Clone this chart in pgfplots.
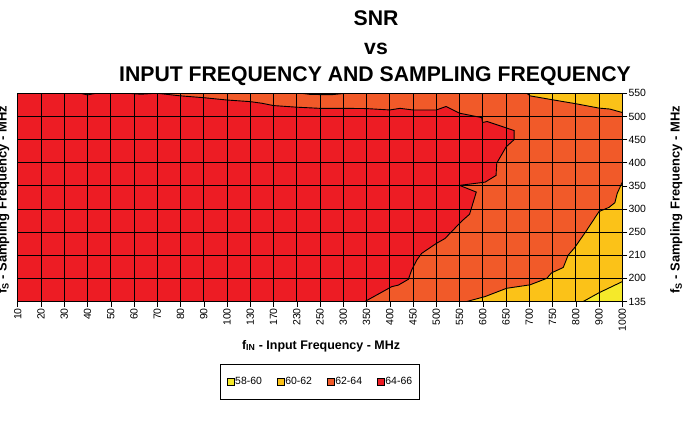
\documentclass[border=0pt]{standalone}
\usepackage{pgfplots}
\pgfplotsset{compat=1.18}
\usepackage{fontspec}
\setmainfont{Liberation Sans}
\definecolor{cRed}{RGB}{237,28,36}
\definecolor{cOrange}{RGB}{241,90,41}
\definecolor{cGold}{RGB}{251,194,24}
\definecolor{cYellow}{RGB}{245,233,42}
\begin{document}
\begin{tikzpicture}
\begin{axis}[
  at={(0,0)}, anchor=south west,
  scale only axis, width=604.5bp, height=208.2bp,
  xmin=0, xmax=26, ymin=0, ymax=9,
  xtick={0,...,26},
  xticklabels={10,20,30,40,50,60,70,80,90,100,130,170,230,250,300,350,400,450,500,550,600,650,700,750,800,900,1000},
  ytick={0,...,9},
  yticklabels={135,200,210,250,300,350,400,450,500,550},
  xtick pos=left, ytick pos=right, yticklabel pos=right,
  tick align=outside, major tick length=5bp,
  tick style={black, line width=0.6bp},
  /pgf/number format/assume math mode=true,
  xticklabel style={rotate=90, anchor=east, font=\fontsize{10.5}{12}\selectfont, inner sep=1.5bp},
  yticklabel style={anchor=west, font=\fontsize{10.5}{12}\selectfont, inner sep=1bp},
  grid=major, major grid style={black, line width=0.8bp},
  axis on top,
  axis line style={black, line width=0.8bp},
  legend columns=4,
  legend image code/.code={\draw[#1] (0bp,-3.3bp) rectangle (6.7bp,3.3bp);},
  legend style={at={(0.5,0)}, anchor=north, yshift=-62.5bp, draw=black, line width=0.8bp,
    inner xsep=6.5bp, inner ysep=12bp, font=\fontsize{10.5}{12}\selectfont,
    nodes={inner sep=1bp},
    /tikz/every even column/.append style={column sep=14bp}},
]
% background 62-64
\addplot[forget plot, fill=cOrange, draw=none] coordinates {(0,0) (26,0) (26,9) (0,9)} -- cycle;
% 64-66 region
\addplot[forget plot, fill=cRed, draw=none] coordinates {
 (0,0) (0,9) (2.7,9) (3.0,8.93) (3.35,9) (4.75,9) (5.3,8.96) (5.9,9) (6,9) (7,8.89) (8,8.81) (9,8.71) (10,8.64) (10.5,8.57)
 (11,8.47) (12,8.40) (13,8.35) (14,8.35) (15,8.34) (16,8.28) (16.44,8.35) (17,8.28)
 (18,8.28) (18.42,8.43) (19,8.14) (19.95,7.95) (19.99,7.74) (20.19,7.78) (21.35,7.39)
 (21.35,7.0) (21.0,6.68) (20.6,5.98) (20.57,5.45) (20.1,5.16) (19.0,5.02) (19.72,4.73)
 (19.43,3.77) (19.1,3.48) (18.37,2.72) (18.0,2.51) (17.37,2.08) (17.16,1.79) (16.94,1.36)
 (16.8,0.96) (16.37,0.71) (16.08,0.64) (14.93,0)} -- cycle;
% 60-62 top right
\addplot[forget plot, fill=cGold, draw=none] coordinates {
 (21.9,9) (22.03,8.89) (23,8.72) (24,8.55) (25,8.36) (25.46,8.32) (26,8.17) (26,9)} -- cycle;
% 60-62 bottom right
\addplot[forget plot, fill=cGold, draw=none] coordinates {
 (19.31,0) (20.09,0.21) (21.02,0.57) (22.03,0.72) (22.75,1.0) (22.96,1.24) (23.46,1.47)
 (23.67,2.0) (23.96,2.34) (24.18,2.66) (24.43,3.02) (25.0,3.89) (25.43,4.07) (25.68,4.27)
 (25.78,4.67) (26,5.16) (26,0)} -- cycle;
% 58-60 bottom right
\addplot[forget plot, fill=cYellow, draw=none] coordinates {
 (24.32,0) (25.0,0.38) (25.46,0.6) (26,0.86) (26,0)} -- cycle;
% contour lines
\addplot[forget plot, black, line width=0.9bp] coordinates {
 (6,9) (7,8.89) (8,8.81) (9,8.71) (10,8.64) (10.5,8.57)
 (11,8.47) (12,8.40) (13,8.35) (14,8.35) (15,8.34) (16,8.28) (16.44,8.35) (17,8.28)
 (18,8.28) (18.42,8.43) (19,8.14) (19.95,7.95) (19.99,7.74) (20.19,7.78) (21.35,7.39)
 (21.35,7.0) (21.0,6.68) (20.6,5.98) (20.57,5.45) (20.1,5.16) (19.0,5.02) (19.72,4.73)
 (19.43,3.77) (19.1,3.48) (18.37,2.72) (18.0,2.51) (17.37,2.08) (17.16,1.79) (16.94,1.36)
 (16.8,0.96) (16.37,0.71) (16.08,0.64) (14.93,0)};
\addplot[forget plot, black, line width=0.9bp] coordinates {(2.7,9) (3.0,8.93) (3.35,9)};
\addplot[forget plot, black, line width=0.9bp] coordinates {(4.75,9) (5.3,8.96) (5.9,9)};
\addplot[forget plot, black, line width=0.9bp] coordinates {(12.2,9) (12.6,8.95) (13.5,8.94) (14.1,9)};
\addplot[forget plot, black, line width=0.9bp] coordinates {
 (21.9,9) (22.03,8.89) (23,8.72) (24,8.55) (25,8.36) (25.46,8.32) (26,8.17)};
\addplot[forget plot, black, line width=0.9bp] coordinates {
 (19.31,0) (20.09,0.21) (21.02,0.57) (22.03,0.72) (22.75,1.0) (22.96,1.24) (23.46,1.47)
 (23.67,2.0) (23.96,2.34) (24.18,2.66) (24.43,3.02) (25.0,3.89) (25.43,4.07) (25.68,4.27)
 (25.78,4.67) (26,5.16)};
\addplot[forget plot, black, line width=0.9bp] coordinates {
 (24.32,0) (25.0,0.38) (25.46,0.6) (26,0.86)};
% legend
\addlegendimage{fill=cYellow, draw=black, line width=0.6bp}
\addlegendentry{58-60}
\addlegendimage{fill=cGold, draw=black, line width=0.6bp}
\addlegendentry{60-62}
\addlegendimage{fill=cOrange, draw=black, line width=0.6bp}
\addlegendentry{62-64}
\addlegendimage{fill=cRed, draw=black, line width=0.6bp}
\addlegendentry{64-66}
\end{axis}
\node[anchor=base, font=\bfseries\fontsize{21.3}{25}\selectfont] at (358.2bp,275.5bp) {SNR};
\node[anchor=base, font=\bfseries\fontsize{21.3}{25}\selectfont] at (358.2bp,246.5bp) {vs};
\node[anchor=base, font=\bfseries\fontsize{21.3}{25}\selectfont] at (357.2bp,219.5bp) {INPUT FREQUENCY AND SAMPLING FREQUENCY};
\node[anchor=base, font=\bfseries\fontsize{12.5}{15}\selectfont] at (303.2bp,-47.5bp) {f\textsubscript{IN} - Input Frequency - MHz};
\node[anchor=base, rotate=90, font=\bfseries\fontsize{13}{15}\selectfont] at (661.8bp,101.5bp) {f\textsubscript{S} - Sampling Frequency - MHz};
\node[anchor=base, rotate=90, font=\bfseries\fontsize{13}{15}\selectfont] at (-11.3bp,101.5bp) {f\textsubscript{S} - Sampling Frequency - MHz};
\pgfresetboundingbox
\useasboundingbox (-17.8bp,-143.5bp) rectangle (665.2bp,301.5bp);
\end{tikzpicture}
\end{document}
